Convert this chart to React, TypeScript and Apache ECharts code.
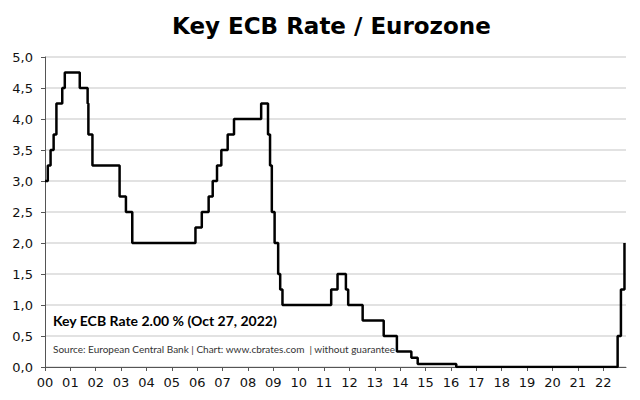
import React, { useEffect, useRef } from "react";
import * as echarts from "echarts";

// Years since 2000-01-01 (decimal) when the rate took effect
const changeYears = [
  0.0, 0.11, 0.22, 0.34, 0.45, 0.68, 0.78, 1.37, 1.68, 1.71, 1.87, 2.94, 3.19, 3.44,
  5.93, 6.18, 6.45, 6.61, 6.78, 6.95, 7.2, 7.45, 8.52, 8.79, 8.87, 8.94, 9.05, 9.19,
  9.27, 9.36, 11.28, 11.53, 11.86, 11.95, 12.52, 13.35, 13.87, 14.44, 14.69, 16.21,
  22.57, 22.7, 22.84,
];
// Key ECB rate (%) from that date
const rates = [
  3.0, 3.25, 3.5, 3.75, 4.25, 4.5, 4.75, 4.5, 4.25, 3.75, 3.25, 2.75, 2.5, 2.0,
  2.25, 2.5, 2.75, 3.0, 3.25, 3.5, 3.75, 4.0, 4.25, 3.75, 3.25, 2.5, 2.0, 1.5,
  1.25, 1.0, 1.25, 1.5, 1.25, 1.0, 0.75, 0.5, 0.25, 0.15, 0.05, 0.0,
  0.5, 1.25, 2.0,
];
const yearTicks = [0, 1, 2, 3, 4, 5, 6, 7, 8, 9, 10, 11, 12, 13, 14, 15, 16, 17, 18, 19, 20, 21, 22];
const titleText = "Key ECB Rate / Eurozone";
const noteText = "Key ECB Rate 2.00 % (Oct 27, 2022)";
const sourceText = "Source: European Central Bank | Chart: www.cbrates.com  | without guarantee";

export default function App() {
  const ref = useRef<HTMLDivElement>(null);
  useEffect(() => {
    if (!ref.current) return;
    const chart = echarts.init(ref.current, null, { renderer: "svg" });
    const data = changeYears.map((x, i) => [x, rates[i]]);
    chart.setOption({
      animation: false,
      backgroundColor: "#ffffff",
      grid: { left: 45, right: 14, top: 57, bottom: 33 },
      xAxis: {
        type: "value",
        min: 0,
        max: 22.9,
        interval: 1,
        splitLine: { show: false },
        axisLine: { show: true, lineStyle: { color: "#555555", width: 1 } },
        axisTick: { show: true, length: 4, customValues: yearTicks, lineStyle: { color: "#555555" } },
        axisLabel: {
          customValues: yearTicks,
          margin: 9,
          color: "#111111",
          fontSize: 13,
          fontFamily: "DejaVu Sans",
          formatter: (v: number) => (v < 10 ? "0" + v : String(v)),
        },
      },
      yAxis: {
        type: "value",
        min: 0,
        max: 5,
        interval: 0.5,
        axisLine: { show: true, lineStyle: { color: "#555555", width: 1 } },
        axisTick: { show: true, length: 4, lineStyle: { color: "#555555" } },
        splitLine: { show: true, lineStyle: { color: "#d9d9d9", width: 1.5 } },
        axisLabel: {
          margin: 12,
          color: "#111111",
          fontSize: 13,
          fontFamily: "DejaVu Sans",
          formatter: (v: number) => v.toFixed(1).replace(".", ","),
        },
      },
      title: {
        text: titleText,
        left: 167,
        top: 9,
        textStyle: { fontFamily: "DejaVu Sans", fontWeight: "bold", fontSize: 23, color: "#000000" },
      },
      graphic: [
        {
          type: "text",
          left: 53,
          top: 313,
          style: { text: noteText, fontFamily: "Lato", fontWeight: "bold", fontSize: 14, fill: "#000000" },
        },
        {
          type: "text",
          left: 53,
          top: 344,
          style: { text: sourceText, fontFamily: "Lato", fontSize: 10, fill: "#333333" },
        },
      ],
      series: [
        {
          type: "line",
          step: "end",
          data,
          symbol: "none",
          lineStyle: { color: "#000000", width: 2.5 },
        },
      ],
    });
    return () => chart.dispose();
  }, []);
  return <div ref={ref} style={{ width: 640, height: 400, position: "absolute", left: 0, top: 0 }} />;
}
